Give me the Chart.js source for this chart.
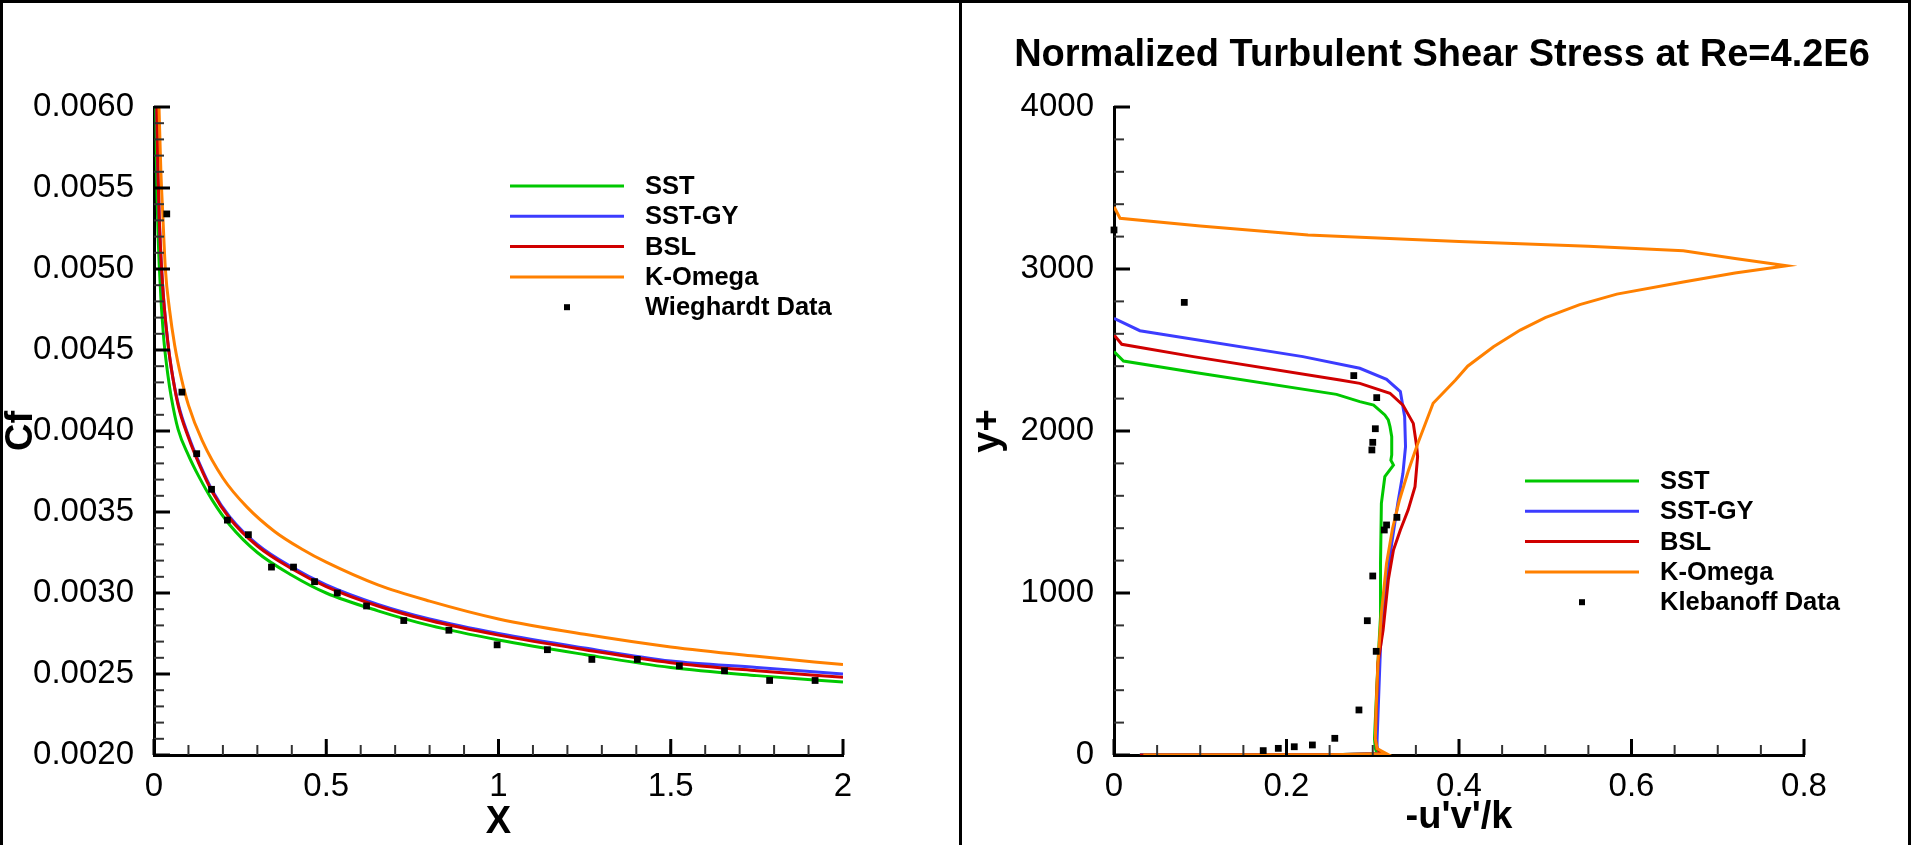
<!DOCTYPE html>
<html>
<head>
<meta charset="utf-8">
<title>Cf and normalized turbulent shear stress</title>
<script src="https://cdn.jsdelivr.net/npm/chart.js@4.4.1/dist/chart.umd.min.js"></script>
<style>
  html, body { margin: 0; padding: 0; background: #fff; }
  #page { position: relative; width: 1911px; height: 845px; overflow: hidden; background: #fff; }
  canvas { position: absolute; top: 0; }
  #cfChart { left: 0; }
  #shearChart { left: 960px; }
  .frame { position: absolute; background: #000; }
</style>
</head>
<body>
<div id="page">
  <canvas id="cfChart" width="960" height="845"></canvas>
  <canvas id="shearChart" width="951" height="845"></canvas>
  <div class="frame" style="left:0;top:0;width:1911px;height:3px"></div>
  <div class="frame" style="left:0;top:0;width:3px;height:845px"></div>
  <div class="frame" style="left:959px;top:0;width:3px;height:845px"></div>
  <div class="frame" style="left:1908px;top:0;width:3px;height:845px"></div>
</div>
<script>
// ---- left panel: skin friction along the plate ----
const sstX = [0.005, 0.007, 0.009, 0.012, 0.015, 0.02, 0.025, 0.03, 0.04, 0.05, 0.07, 0.1, 0.13, 0.17, 0.22, 0.3, 0.4, 0.5, 0.65, 0.8, 1.0, 1.25, 1.5, 1.75, 2.0];
const sstCf = [0.00600, 0.00567, 0.00543, 0.00520, 0.00503, 0.00482, 0.00466, 0.00453, 0.00435, 0.00421, 0.00401, 0.00385, 0.00372, 0.00357, 0.00342, 0.00325, 0.00311, 0.00300, 0.00289, 0.00280, 0.00271, 0.00262, 0.00254, 0.00249, 0.00245];

const bslX = [0.008, 0.011, 0.015, 0.02, 0.025, 0.03, 0.04, 0.05, 0.07, 0.1, 0.13, 0.17, 0.22, 0.3, 0.4, 0.5, 0.65, 0.8, 1.0, 1.25, 1.5, 1.75, 2.0];
const gyCf = [0.00600, 0.00564, 0.00533, 0.00508, 0.00490, 0.00476, 0.00455, 0.00439, 0.00417, 0.00397, 0.00381, 0.00363, 0.00347, 0.00330, 0.00316, 0.00305, 0.00293, 0.00284, 0.00275, 0.00266, 0.00258, 0.00254, 0.00250];
const bslCf = [0.00600, 0.00564, 0.00533, 0.00508, 0.00490, 0.00476, 0.00455, 0.00439, 0.00416, 0.00396, 0.00380, 0.00362, 0.00346, 0.00329, 0.00315, 0.00304, 0.00292, 0.00283, 0.00274, 0.00265, 0.00257, 0.00252, 0.00248];

const kwX = [0.0145, 0.02, 0.025, 0.033, 0.045, 0.06, 0.08, 0.1, 0.14, 0.2, 0.27, 0.35, 0.43, 0.5, 0.65, 0.8, 1.0, 1.25, 1.5, 1.75, 2.0];
const kwCf = [0.00600, 0.00560, 0.00536, 0.00500, 0.00475, 0.00453, 0.00432, 0.00416, 0.00394, 0.00371, 0.00353, 0.00338, 0.00327, 0.00319, 0.00305, 0.00295, 0.00284, 0.002745, 0.002667, 0.002609, 0.002558];

const wieghardtX = [0.037, 0.081, 0.124, 0.167, 0.213, 0.274, 0.341, 0.405, 0.466, 0.532, 0.617, 0.725, 0.856, 0.996, 1.142, 1.271, 1.403, 1.525, 1.656, 1.787, 1.919];
const wieghardtCf = [0.00534, 0.00424, 0.00386, 0.00364, 0.00345, 0.00336, 0.00316, 0.00316, 0.00307, 0.00300, 0.00292, 0.00283, 0.00277, 0.00268, 0.00265, 0.00259, 0.00259, 0.00255, 0.00252, 0.00246, 0.00246];

const cfXTicks = [0, 0.5, 1, 1.5, 2];
const cfYTicks = [0.0020, 0.0025, 0.0030, 0.0035, 0.0040, 0.0045, 0.0050, 0.0055, 0.0060];

// ---- right panel: -u'v'/k profiles across the boundary layer ----
const sstUV = [0.03, 0.25, 0.305, 0.303, 0.302, 0.306, 0.309, 0.309, 0.310, 0.314, 0.324, 0.321, 0.322, 0.322, 0.320, 0.318, 0.314, 0.301, 0.285, 0.258, 0.092, 0.011, 0];
const sstYp = [0, 2, 8, 40, 100, 566, 854, 1183, 1553, 1718, 1790, 1820, 1852, 1965, 2027, 2068, 2099, 2160, 2181, 2226, 2362, 2432, 2490];

const gyUV = [0.03, 0.25, 0.31, 0.305, 0.305, 0.309, 0.314, 0.322, 0.329, 0.335, 0.338, 0.337, 0.332, 0.316, 0.285, 0.219, 0.030, 0];
const gyYp = [0, 2, 8, 40, 93, 669, 977, 1307, 1553, 1739, 1903, 2088, 2243, 2319, 2387, 2459, 2619, 2696];

const bslUV = [0.03, 0.25, 0.31, 0.305, 0.303, 0.306, 0.312, 0.318, 0.324, 0.332, 0.341, 0.349, 0.352, 0.351, 0.347, 0.335, 0.32, 0.285, 0.262, 0.092, 0.009, 0];
const bslYp = [0, 2, 8, 40, 100, 566, 772, 1080, 1265, 1389, 1512, 1656, 1841, 1903, 2047, 2160, 2233, 2294, 2315, 2459, 2535, 2593];

const kwUV = [0.034, 0.25, 0.316, 0.305, 0.303, 0.304, 0.306, 0.310, 0.316, 0.323, 0.331, 0.341, 0.352, 0.370, 0.396, 0.41, 0.44, 0.471, 0.50, 0.54, 0.583, 0.66, 0.72, 0.78, 0.72, 0.66, 0.55, 0.40, 0.225, 0.10, 0.007, 0];
const kwYp = [0, 2, 8, 40, 100, 300, 566, 875, 1183, 1400, 1574, 1750, 1920, 2171, 2315, 2400, 2520, 2623, 2700, 2780, 2845, 2920, 2975, 3020, 3065, 3113, 3140, 3169, 3210, 3265, 3313, 3385];

const klebanoffUV = [0, 0.0815, 0.278, 0.3046, 0.303, 0.300, 0.299, 0.328, 0.316, 0.3134, 0.300, 0.2937, 0.304, 0.284, 0.256, 0.230, 0.209, 0.1905, 0.173];
const klebanoffYp = [3241, 2794, 2342, 2206, 2014, 1930, 1883, 1467, 1420, 1389, 1105, 829, 640, 278, 103, 62, 51, 41, 27];

const uvXTicks = [0, 0.2, 0.4, 0.6, 0.8];
const uvYTicks = [0, 1000, 2000, 3000, 4000];

const labels = ['SST', 'SST-GY', 'BSL', 'K-Omega'];
const colors = ['#00c800', '#3c3cff', '#d00000', '#ff8000'];

const FONT = '"Liberation Sans", Arial, Helvetica, sans-serif';

function pairs(xs, ys) {
  return xs.map((x, i) => ({ x: x, y: ys[i] }));
}

function minorTicks(min, max, step) {
  const out = [];
  const n = Math.round((max - min) / step);
  for (let i = 0; i <= n; i++) out.push(min + i * step);
  return out;
}

// ticks pointing into the plot, axis titles, title and the in-plot legend
const decorPlugin = {
  id: 'decor',
  afterDraw(chart, args, o) {
    const { ctx, chartArea: a, scales } = chart;
    const sx = scales.x, sy = scales.y;
    ctx.save();
    const mark = (x1, y1, x2, y2, w, c) => {
      ctx.lineWidth = w;
      ctx.strokeStyle = c;
      ctx.beginPath();
      ctx.moveTo(x1, y1);
      ctx.lineTo(x2, y2);
      ctx.stroke();
    };
    o.xMinor.forEach(v => { const p = sx.getPixelForValue(v); mark(p, a.bottom, p, a.bottom - 10, 2, '#333'); });
    o.yMinor.forEach(v => { const p = sy.getPixelForValue(v); mark(a.left, p, a.left + 10, p, 2, '#333'); });
    o.xMajor.forEach(v => { const p = sx.getPixelForValue(v); mark(p, a.bottom, p, a.bottom - 16, 3, '#000'); });
    o.yMajor.forEach(v => { const p = sy.getPixelForValue(v); mark(a.left, p, a.left + 16, p, 3, '#000'); });

    ctx.fillStyle = '#000';
    ctx.textAlign = 'center';
    ctx.textBaseline = 'middle';
    ctx.font = 'bold 38px ' + FONT;
    ctx.fillText(o.xTitle, (a.left + a.right) / 2, o.xTitleY);
    ctx.save();
    ctx.translate(o.yTitleX, (a.top + a.bottom) / 2);
    ctx.rotate(-Math.PI / 2);
    ctx.fillText(o.yTitle, 0, 0);
    ctx.restore();

    if (o.title) {
      ctx.font = 'bold 38px ' + FONT;
      ctx.fillText(o.title, o.titleX, o.titleY);
    }

    // legend
    ctx.font = 'bold 25.5px ' + FONT;
    ctx.textAlign = 'left';
    chart.data.datasets.forEach((ds, i) => {
      const y = o.legendY + i * o.legendRow;
      if (ds.showLine) {
        mark(o.legendX, y, o.legendX + o.legendW, y, 3, ds.borderColor);
      } else {
        ctx.fillStyle = ds.backgroundColor;
        ctx.fillRect(o.legendX + o.legendW / 2 - 3, y - 3, 6, 6);
      }
      ctx.fillStyle = '#000';
      ctx.fillText(ds.label, o.legendTextX, y + 1);
    });
    ctx.restore();
  }
};

function lineSet(label, color, data, order, smooth) {
  return {
    label: label,
    data: data,
    showLine: true,
    borderColor: color,
    backgroundColor: color,
    borderWidth: 3,
    pointRadius: 0,
    fill: false,
    order: order,
    cubicInterpolationMode: smooth ? 'monotone' : 'default',
    tension: 0
  };
}

function pointSet(label, data) {
  return {
    label: label,
    data: data,
    showLine: false,
    pointStyle: 'rect',
    pointRadius: 4.8,
    pointBorderWidth: 0,
    backgroundColor: '#000',
    borderColor: '#000',
    order: 0,
    clip: false
  };
}

function axis(min, max, ticks, fmt, fit, pad) {
  return {
    type: 'linear',
    min: min,
    max: max,
    grid: { display: false },
    border: { display: true, color: '#000', width: 3 },
    ticks: {
      color: '#000',
      font: { family: FONT, size: 33 },
      padding: pad,
      autoSkip: false,
      maxRotation: 0,
      callback: fmt
    },
    afterBuildTicks: s => { s.ticks = ticks.map(v => ({ value: v })); },
    afterFit: fit
  };
}

const base = {
  responsive: false,
  animation: false,
  events: [],
  plugins: { legend: { display: false }, tooltip: { enabled: false } }
};

new Chart(document.getElementById('cfChart'), {
  type: 'scatter',
  data: {
    datasets: [
      lineSet(labels[0], colors[0], pairs(sstX, sstCf), 4, true),
      lineSet(labels[1], colors[1], pairs(bslX, gyCf), 3, true),
      lineSet(labels[2], colors[2], pairs(bslX, bslCf), 2, true),
      lineSet(labels[3], colors[3], pairs(kwX, kwCf), 1, true),
      pointSet('Wieghardt Data', pairs(wieghardtX, wieghardtCf))
    ]
  },
  options: Object.assign({}, base, {
    layout: { padding: { left: 0, right: 117, top: 107, bottom: 0 } },
    scales: {
      x: axis(0, 2, cfXTicks, v => String(v), s => { s.height = 90; }, 4),
      y: axis(0.002, 0.006, cfYTicks, v => v.toFixed(4), s => { s.width = 154; }, 12)
    },
    plugins: Object.assign({}, base.plugins, {
      decor: {
        xMajor: cfXTicks, yMajor: cfYTicks,
        xMinor: minorTicks(0, 2, 0.1), yMinor: minorTicks(0.002, 0.006, 0.0001),
        xTitle: 'X', xTitleY: 823, yTitle: 'Cf', yTitleX: 22,
        legendX: 510, legendW: 114, legendTextX: 645, legendY: 186, legendRow: 30.3
      }
    })
  }),
  plugins: [decorPlugin]
});

new Chart(document.getElementById('shearChart'), {
  type: 'scatter',
  data: {
    datasets: [
      lineSet(labels[0], colors[0], pairs(sstUV, sstYp), 4, false),
      lineSet(labels[1], colors[1], pairs(gyUV, gyYp), 3, false),
      lineSet(labels[2], colors[2], pairs(bslUV, bslYp), 2, false),
      lineSet(labels[3], colors[3], pairs(kwUV, kwYp), 1, false),
      pointSet('Klebanoff Data', pairs(klebanoffUV, klebanoffYp))
    ]
  },
  options: Object.assign({}, base, {
    layout: { padding: { left: 0, right: 107, top: 107, bottom: 0 } },
    scales: {
      x: axis(0, 0.8, uvXTicks, v => String(v), s => { s.height = 90; }, 4),
      y: axis(0, 4000, uvYTicks, v => String(v), s => { s.width = 154; }, 12)
    },
    plugins: Object.assign({}, base.plugins, {
      decor: {
        xMajor: uvXTicks, yMajor: uvYTicks,
        xMinor: minorTicks(0, 0.8, 0.05), yMinor: minorTicks(0, 4000, 200),
        xTitle: "-u'v'/k", xTitleY: 818, yTitle: 'y+', yTitleX: 29,
        title: 'Normalized Turbulent Shear Stress at Re=4.2E6', titleX: 482, titleY: 56,
        legendX: 565, legendW: 114, legendTextX: 700, legendY: 481, legendRow: 30.3
      }
    })
  }),
  plugins: [decorPlugin]
});
</script>
</body>
</html>
